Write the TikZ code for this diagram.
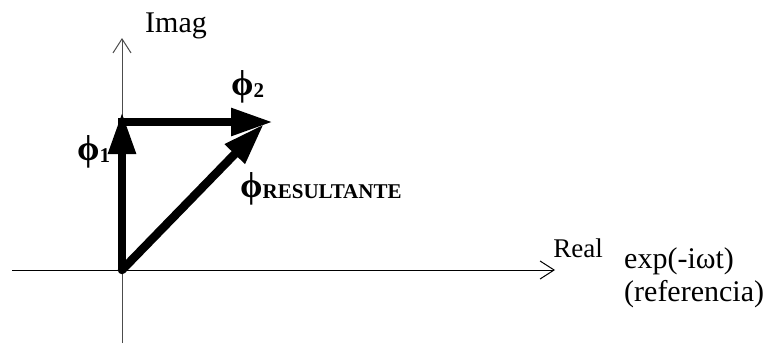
\documentclass[tikz,border=0pt]{standalone}
\usepackage{fontspec}
\setmainfont{Liberation Serif}
\usetikzlibrary{arrows.meta}
\begin{document}
\begin{tikzpicture}[x=1pt,y=-1pt,
  axis/.style={line width=1pt,-{Straight Barb[length=14pt,width=18pt,line width=1pt]}},
  phasor/.style={line width=8.5pt,-{Triangle[length=42pt,width=26pt]}},
  lbl/.style={inner sep=0pt,font=\fontsize{30}{34}\selectfont},
  sym/.style={inner sep=0pt,font=\bfseries\fontsize{36}{40}\selectfont}]
\useasboundingbox (0,0) rectangle (776,343);
\coordinate (O) at (122,270);
\coordinate (xs) at (12,270);
\coordinate (xe) at (555,270);
\coordinate (ys) at (122,343);
\coordinate (ye) at (122,38);
\coordinate (p1) at (122,112);
\coordinate (p2s) at (118,122);
\coordinate (p2) at (273,122);
\coordinate (pr) at (264,124);
\draw[axis] (xs) -- (xe);
\draw[axis,black!70] (ys) -- (ye);
\draw[phasor] (O) -- (p1);
\draw[phasor] (p2s) -- (p2);
\draw[phasor,line cap=round] (O) -- (pr);
\node[lbl,anchor=base] (imag) at (176,32) {Imag};
\node[lbl,anchor=base,font=\fontsize{27}{30}\selectfont] (real) at (578,257) {Real};
\node[lbl,anchor=base west] (exp) at (624,268) {exp(-iωt)};
\node[lbl,anchor=base west] (ref) at (624,301) {(referencia)};
\node[sym,anchor=base west] (f1) at (77,160) {ϕ\raisebox{-2pt}{\fontsize{21}{24}\selectfont 1}};
\node[sym,anchor=base west] (f2) at (231,95) {ϕ\raisebox{-2pt}{\fontsize{21}{24}\selectfont 2}};
\node[sym,anchor=base west] (fr) at (240,197) {ϕ\raisebox{-1pt}{\fontsize{21}{24}\selectfont RESULTANTE}};
\end{tikzpicture}
\end{document}
